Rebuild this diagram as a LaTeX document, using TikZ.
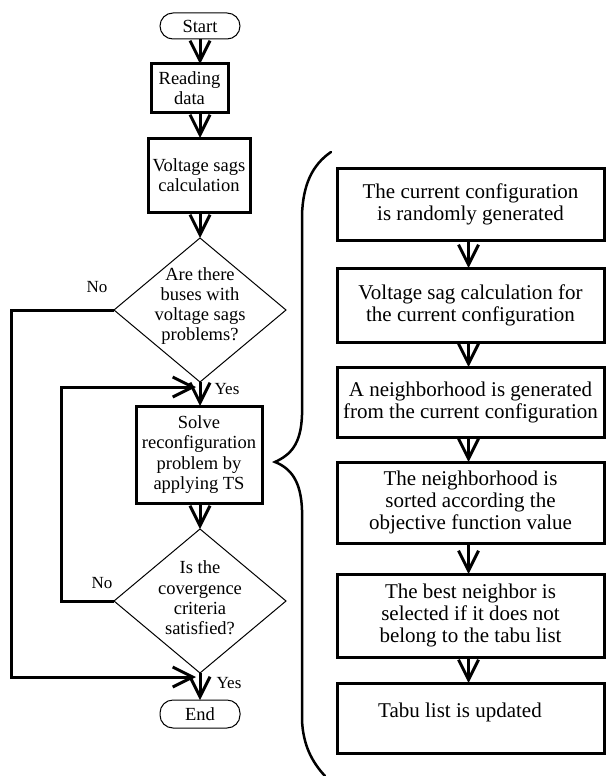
\documentclass[tikz,border=0pt]{standalone}
\usepackage{fontspec}
\setmainfont{Liberation Serif}
\usetikzlibrary{arrows.meta,shapes.geometric}
\begin{document}
\begin{tikzpicture}[x=1pt,y=-1pt,
  every node/.style={inner sep=0pt, outer sep=0pt},
  lefttext/.style={font=\fontsize{18.5}{20.3}\selectfont, align=center},
  righttext/.style={font=\fontsize{21}{22}\selectfont, align=center},
  tag/.style={font=\fontsize{17}{19}\selectfont},
  terminal/.style={draw, line width=1pt, rounded corners=13pt, lefttext},
  procbox/.style={draw, line width=3pt, lefttext},
  stepbox/.style={draw, line width=3pt, righttext, minimum width=267pt},
  decision/.style={draw, diamond, line width=1pt, minimum width=172pt, minimum height=144pt},
  flow/.style={line width=3pt, -{Straight Barb[length=20pt, width=20pt]}},
]
\useasboundingbox (0,0) rectangle (608,776);

% main column
\coordinate (axis) at (200,0);
\node[terminal, minimum width=80pt, minimum height=26pt] (start) at (200,26) {Start};
\node[procbox, minimum width=77pt, minimum height=48pt] (read) at (189.5,88) {Reading\\data};
\node[procbox, minimum width=102pt, minimum height=74pt] (volt) at (199,175) {Voltage sags\\calculation};
\node[decision] (d1) at (200,310) {};
\node[lefttext] (d1txt) at (200,306) {Are there\\buses with\\voltage sags\\problems?};
\node[procbox, minimum width=126pt, minimum height=97pt] (solve) at (199,454.5) {Solve\\reconfiguration\\problem by\\applying TS};
\node[decision] (d2) at (200,601) {};
\node[lefttext] (d2txt) at (200,598) {Is the\\covergence\\criteria\\satisfied?};
\node[terminal, minimum width=80pt, minimum height=28pt] (end) at (200,714) {End};

\draw[flow] (start.south) -- (axis |- read.north);
\draw[flow] (axis |- read.south) -- (axis |- volt.north);
\draw[flow] (axis |- volt.south) -- (d1.north);
\draw[flow] (d1.south) -- (axis |- solve.north);
\draw[flow] (axis |- solve.south) -- (d2.north);
\draw[flow] (d2.south) -- (end.north);

% feedback lines
\coordinate (in1) at (196,387);
\coordinate (in2) at (196,677);
\draw[flow] (d2.west) -- ++(-53,0) |- (in1);
\draw[flow] (d1.west) -- ++(-103,0) |- (in2);

\node[tag] (no1) at (97,287) {No};
\node[tag] (no2) at (102,583) {No};
\node[tag] (yes1) at (227,389) {Yes};
\node[tag] (yes2) at (229,683) {Yes};

% tabu search steps
\node[stepbox, minimum height=72pt] (s1) at (470.5,204) {The current configuration\\is randomly generated};
\node[stepbox, minimum height=74pt] (s2) at (470.5,305) {Voltage sag calculation for\\the current configuration};
\node[stepbox, minimum height=70pt] (s3) at (470.5,402) {A neighborhood is generated\\from the current configuration};
\node[stepbox, minimum height=81pt] (s4) at (470.5,502.5) {The neighborhood is\\sorted according the\\objective function value};
\node[stepbox, minimum height=83pt] (s5) at (470.5,615.5) {The best neighbor is\\selected if it does not\\belong to the tabu list};
\node[stepbox, minimum height=70pt] (s6) at (470.5,718) {};
\node[righttext] (s6txt) at (460,712) {Tabu list is updated};

\foreach \a/\b in {s1/s2,s2/s3,s3/s4,s4/s5,s5/s6}
  \draw[flow] ([xshift=-2pt]\a.south) -- ([xshift=-2pt]\b.north);

% brace grouping the steps
\draw[line width=2.5pt, line cap=round]
  (331,152) .. controls (312,165) and (303,185) .. (302,215)
  -- (302,415) .. controls (301,445) and (290,455) .. (275,462)
  .. controls (290,468) and (301,480) .. (302,510)
  -- (302,720) .. controls (303,745) and (312,762) .. (325,776);
\end{tikzpicture}
\end{document}
